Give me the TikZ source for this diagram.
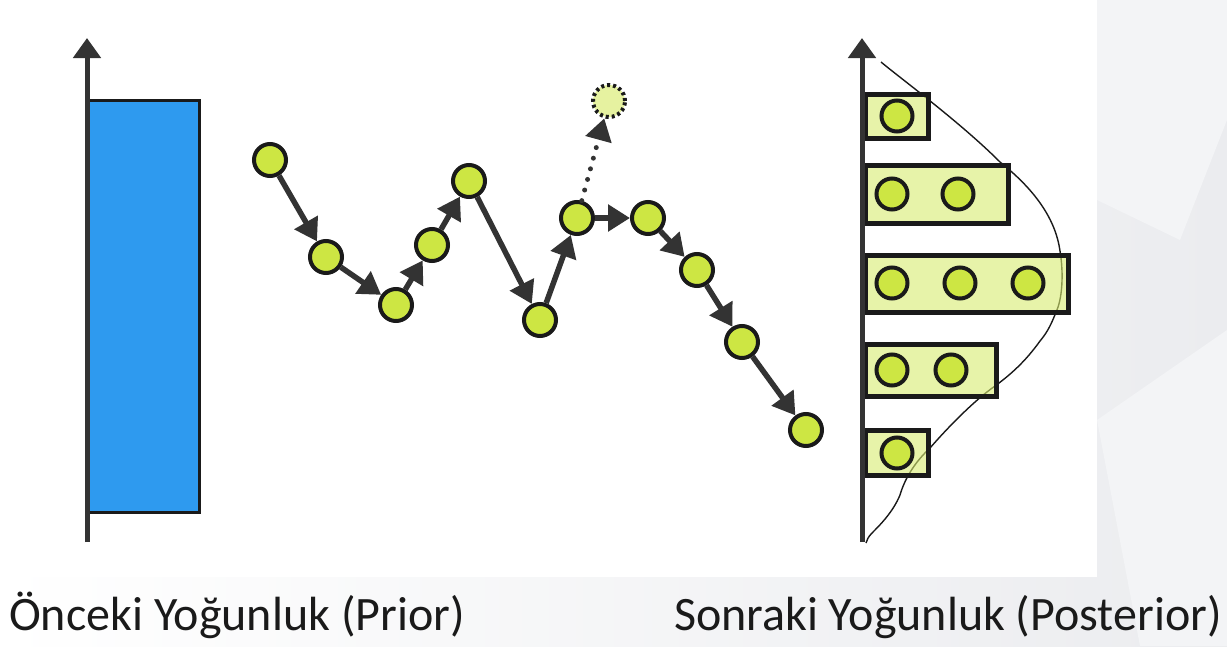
\documentclass[tikz,border=0pt]{standalone}
\usepackage{fontspec}
\setmainfont{Carlito}
\usetikzlibrary{arrows.meta}

\definecolor{pagegrey}{HTML}{EBECEF}
\definecolor{pagelight}{HTML}{F3F4F6}
\definecolor{ink}{HTML}{1A1A1A}
\definecolor{arrowgrey}{HTML}{333333}
\definecolor{lime}{HTML}{CDE643}
\definecolor{limepale}{HTML}{E6F2A0}
\definecolor{binfill}{HTML}{D8EC70}
\definecolor{priorblue}{HTML}{2E9AEF}

\tikzset{
  sample/.style={circle, draw=ink, line width=4pt, fill=lime, minimum size=32pt, inner sep=0pt},
  binsample/.style={circle, draw=ink, line width=4pt, fill=lime, minimum size=31pt, inner sep=0pt},
  proposal/.style={circle, draw=ink, line width=4pt, dash pattern=on 3pt off 3pt, fill=limepale, minimum size=32pt, inner sep=0pt},
  move/.style={draw=arrowgrey, line width=5.5pt, -{Triangle[length=22pt, width=26pt]}},
  rejected/.style={draw=arrowgrey, line width=5pt, line cap=round, dash pattern=on 0pt off 11pt,
    -{Triangle[length=22pt, width=26pt]}},
  axisline/.style={draw=arrowgrey, line width=5pt, -{Triangle[length=20pt, width=27pt]}},
  bin/.style={draw=ink, line width=5pt, fill=binfill, fill opacity=0.6, draw opacity=1},
  density/.style={draw=ink, line width=1.4pt},
  caption/.style={inner sep=0pt, font=\fontsize{48}{52}\selectfont, text=ink}
}

\begin{document}
\begin{tikzpicture}[x=1pt, y=-1pt]
  % page background: soft grey gradient with a white drawing area
  \useasboundingbox (0,0) rectangle (1227,646);
  \shade[left color=white, right color=pagegrey] (0,0) rectangle (1227,646);
  \fill[pagelight] (1097,0) -- (1227,0) -- (1227,120) -- (1180,240) -- (1097,200) -- cycle;
  \fill[pagelight] (1097,420) -- (1227,330) -- (1227,646) -- (1140,646) -- cycle;
  \fill[white] (0,0) rectangle (1097,577);

  % prior: uniform density
  \draw[fill=priorblue, draw=ink, line width=3pt] (88,100) rectangle (199,512);
  \draw[axisline] (87,542) coordinate (pa0) -- (87,38) coordinate (pa1);

  % random walk of samples
  \node[sample] (s1) at (270,160) {};
  \node[sample] (s2) at (326,257) {};
  \node[sample] (s3) at (396,305) {};
  \node[sample] (s4) at (432,245) {};
  \node[sample] (s5) at (469,181) {};
  \node[sample] (s6) at (540,320) {};
  \node[sample] (s7) at (577,218) {};
  \node[sample] (s8) at (648,218) {};
  \node[sample] (s9) at (697,270) {};
  \node[sample] (s10) at (742,342) {};
  \node[sample] (s11) at (806,430) {};
  \node[proposal] (p) at (609,101) {};

  \draw[move] (s1) -- (s2);
  \draw[move] (s2) -- (s3);
  \draw[move] (s3) -- (s4);
  \draw[move] (s4) -- (s5);
  \draw[move] (s5) -- (s6);
  \draw[move] (s6) -- (s7);
  \draw[move] (s7) -- (s8);
  \draw[move] (s8) -- (s9);
  \draw[move] (s9) -- (s10);
  \draw[move] (s10) -- (s11);
  \draw[rejected] (s7) -- (p);

  % posterior: density curve and histogram of samples
  \draw[density] (881,62) .. controls (900,78) and (960,122) .. (1000,162)
    .. controls (1030,186) and (1055,215) .. (1060,251)
    .. controls (1064,275) and (1062,300) .. (1056,312)
    .. controls (1050,328) and (1045,335) .. (1040,341)
    .. controls (1025,362) and (1010,375) .. (995,386)
    .. controls (975,400) and (950,425) .. (930,448)
    .. controls (915,462) and (905,478) .. (900,495)
    .. controls (893,512) and (880,525) .. (872,533)
    .. controls (868,537) and (867,540) .. (866,543);

  \draw[bin] (865,94) rectangle (928,138.5);
  \draw[bin] (865,165.5) rectangle (1008,223.5);
  \draw[bin] (865,255) rectangle (1068.5,312);
  \draw[bin] (865,344.3) rectangle (996.5,396.5);
  \draw[bin] (865,430) rectangle (928,475);

  \node[binsample] (b1) at (897,116) {};
  \node[binsample] (b2a) at (892,194) {};
  \node[binsample] (b2b) at (958,194) {};
  \node[binsample] (b3a) at (892,283) {};
  \node[binsample] (b3b) at (960,283) {};
  \node[binsample] (b3c) at (1028,283) {};
  \node[binsample] (b4a) at (892,370) {};
  \node[binsample] (b4b) at (951,370) {};
  \node[binsample] (b5) at (897,453) {};

  \draw[axisline] (862,542) coordinate (qa0) -- (862,38) coordinate (qa1);

  % captions
  \node[caption, anchor=base west] (prior) at (9,630) {Önceki Yoğunluk (Prior)};
  \node[caption, anchor=base east] (posterior) at (1222,630) {Sonraki Yoğunluk (Posterior)};
\end{tikzpicture}
\end{document}
